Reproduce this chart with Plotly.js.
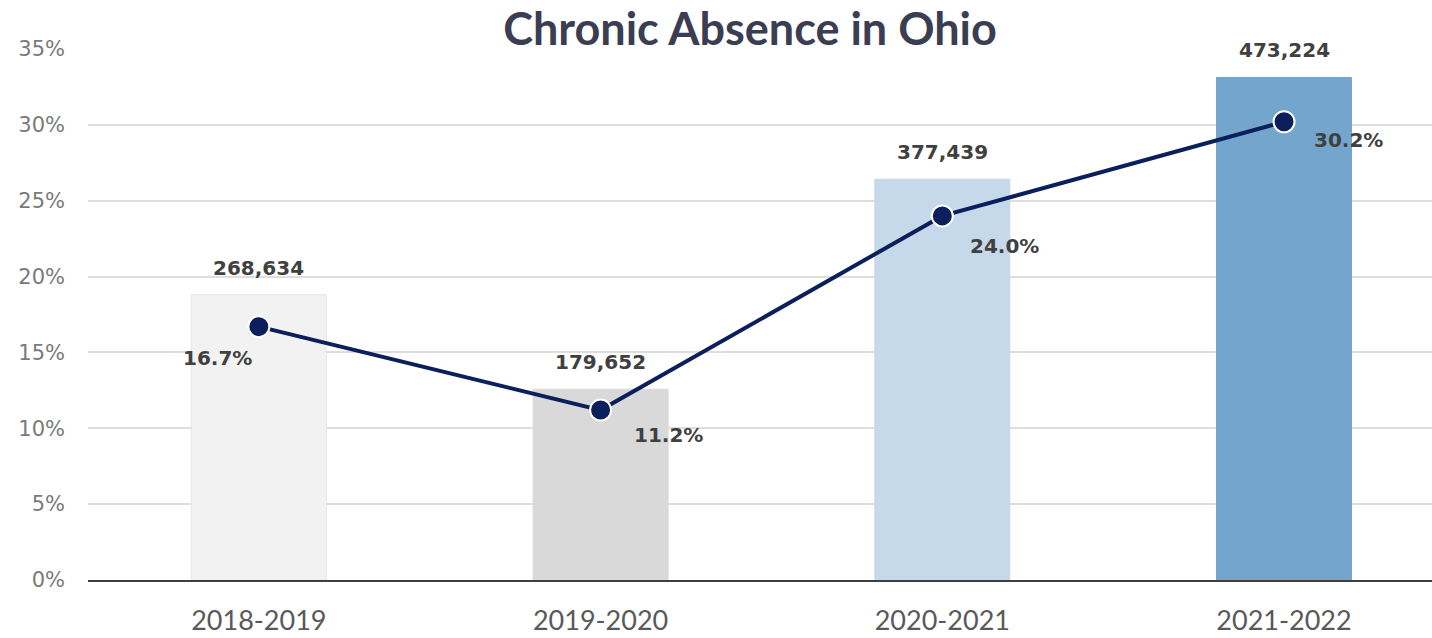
<!DOCTYPE html>
<html>
<head>
<meta charset="utf-8">
<script src="https://cdn.plot.ly/plotly-3.0.1.min.js"></script>
<style>html,body{margin:0;padding:0;background:#fff;}#chart{width:1432px;height:638px;}</style>
</head>
<body>
<div id="chart"></div>
<script>
// ---- data ----
const years = ["2018-2019", "2019-2020", "2020-2021", "2021-2022"];
const chronicCounts = [268634, 179652, 377439, 473224];
const chronicRates = [16.7, 11.2, 24.0, 30.2];
const yTickVals = [0, 5, 10, 15, 20, 25, 30, 35];

// ---- styles ----
const barColors = ["#f2f2f2", "#d9d9d9", "#c6d9ea", "#74a5cd"];
const navy = "#0c1f5d";
const rateLabelOffsets = [[-41, -31], [68, -25], [62, -30], [64, -18]];
const countMax = 500000;

const bars = {
  type: "bar",
  x: years,
  y: chronicCounts,
  yaxis: "y",
  width: 0.395,
  marker: { color: barColors, line: { color: ["#e6e6e6", "#d9d9d9", "#c6d9ea", "#74a5cd"], width: 1 } },
  hoverinfo: "skip",
  showlegend: false
};

const line = {
  type: "scatter",
  mode: "lines+markers",
  x: years,
  y: chronicRates,
  yaxis: "y2",
  line: { color: navy, width: 4 },
  marker: { size: 21, color: navy, line: { color: "#ffffff", width: 2 } },
  cliponaxis: false,
  hoverinfo: "skip",
  showlegend: false
};

const annotations = [];
chronicCounts.forEach((v, i) => {
  annotations.push({
    x: years[i], y: v, xref: "x", yref: "y",
    text: v.toLocaleString("en-US"),
    showarrow: false, yanchor: "bottom", yshift: 13,
    font: { family: "DejaVu Sans", size: 20, color: "#404040", weight: "bold" }
  });
});
chronicRates.forEach((v, i) => {
  annotations.push({
    x: years[i], y: v, xref: "x", yref: "y2",
    text: v.toFixed(1) + "%",
    showarrow: false, xanchor: "center", yanchor: "middle",
    xshift: rateLabelOffsets[i][0], yshift: rateLabelOffsets[i][1],
    font: { family: "DejaVu Sans", size: 20, color: "#404040", weight: "bold" }
  });
});

const layout = {
  width: 1432, height: 638,
  margin: { l: 88, r: 0, t: 49, b: 58, autoexpand: false },
  paper_bgcolor: "#ffffff", plot_bgcolor: "#ffffff",
  title: {
    text: "<b>Chronic Absence in Ohio</b>",
    xref: "container", yref: "container",
    x: 750 / 1432, xanchor: "center",
    y: 1 - 29 / 638, yanchor: "middle",
    font: { family: "Lato", size: 45, color: "#3b3d52" }
  },
  xaxis: {
    type: "category",
    range: [-0.5, 3.433],
    showgrid: false, zeroline: false,
    showline: true, linecolor: "#3f3f3f", linewidth: 2,
    ticks: "", ticklabelstandoff: 16,
    tickfont: { family: "Lato", size: 27, color: "#595959" },
    fixedrange: true
  },
  yaxis: {
    range: [0, countMax],
    tickmode: "linear", tick0: 0, dtick: countMax / 7,
    showgrid: true, gridcolor: "#dedede", gridwidth: 2,
    zeroline: false, showticklabels: false, ticks: "",
    fixedrange: true
  },
  yaxis2: {
    overlaying: "y", side: "left",
    range: [0, 35],
    tickmode: "array", tickvals: yTickVals,
    ticktext: yTickVals.map(v => v + "%"),
    showgrid: false, zeroline: false, showline: false,
    ticks: "", ticklabelstandoff: 22,
    tickfont: { family: "DejaVu Sans", size: 21, color: "#7a7a7a" },
    fixedrange: true
  },
  annotations: annotations,
  showlegend: false
};

Plotly.newPlot("chart", [bars, line], layout, { displayModeBar: false, staticPlot: true });
</script>
</body>
</html>
